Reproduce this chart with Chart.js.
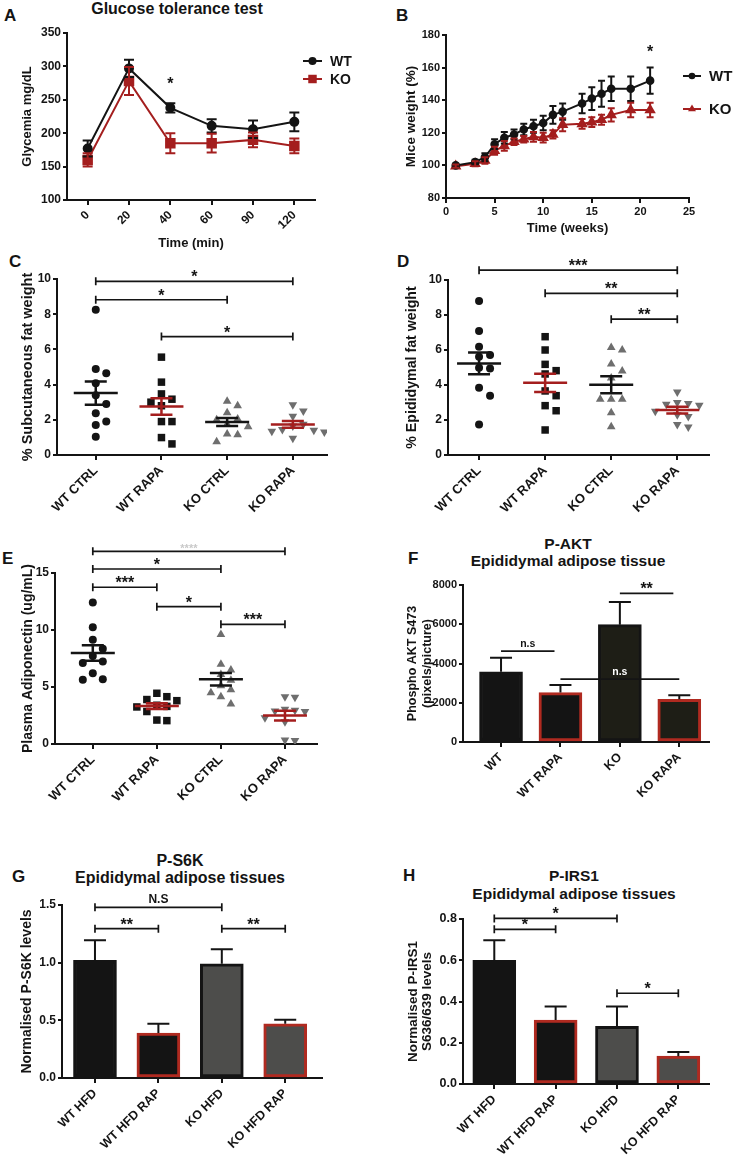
<!DOCTYPE html>
<html>
<head>
<meta charset="utf-8">
<title>Figure</title>
<script src="https://cdn.jsdelivr.net/npm/chart.js@4.4.1/dist/chart.umd.min.js"></script>
<style>
  html, body { margin: 0; padding: 0; background: #fff; }
  body { position: relative; width: 733px; height: 1157px; overflow: hidden;
         font-family: "Liberation Sans", Arial, sans-serif; font-weight: bold; color: #141414; }
  canvas { position: absolute; }
  .letter { position: absolute; font-size: 17px; line-height: 17px; }
  .title { position: absolute; width: 220px; text-align: center; }
</style>
</head>
<body>
<div class="letter" style="left:4px;top:7px">A</div>
<div class="letter" style="left:396px;top:7px">B</div>
<div class="letter" style="left:9px;top:253px">C</div>
<div class="letter" style="left:397px;top:253px">D</div>
<div class="letter" style="left:2px;top:550px">E</div>
<div class="letter" style="left:408px;top:550px">F</div>
<div class="letter" style="left:12px;top:868px">G</div>
<div class="letter" style="left:403px;top:867px">H</div>

<div class="title" style="left:67px;top:1px;font-size:16px;line-height:16px">Glucose tolerance test</div>
<div class="title" style="left:458px;top:535px;font-size:15.5px;line-height:17px">P-AKT<br>Epididymal adipose tissue</div>
<div class="title" style="left:70px;top:852px;font-size:16px;line-height:17px">P-S6K<br>Epididymal adipose tissues</div>
<div class="title" style="left:464px;top:867px;font-size:15.5px;line-height:18px">P-IRS1<br>Epididymal adipose tissues</div>

<canvas id="gtt" width="366" height="251" style="left:0;top:0"></canvas>
<canvas id="weight" width="367" height="236" style="left:366px;top:0"></canvas>
<canvas id="subcut" width="366" height="270" style="left:0;top:250px"></canvas>
<canvas id="epididymal" width="367" height="270" style="left:366px;top:250px"></canvas>
<canvas id="adiponectin" width="366" height="300" style="left:0;top:530px"></canvas>
<canvas id="akt" width="367" height="300" style="left:366px;top:530px"></canvas>
<canvas id="s6k" width="366" height="307" style="left:0;top:850px"></canvas>
<canvas id="irs1" width="367" height="307" style="left:366px;top:850px"></canvas>

<script>
// A - glucose tolerance test
const gttTimes = ['0', '20', '40', '60', '90', '120'];
const gttWT = [177, 297, 238, 211, 206, 217];
const gttWTErr = [12, 13, 7, 10, 13, 14];
const gttKO = [160, 278, 185, 185, 190, 181];
const gttKOErr = [10, 21, 15, 14, 11, 11];
const gttStars = [[2, 268, '*']];

// B - body weight
const weeks = [1, 3, 4, 5, 6, 7, 8, 9, 10, 11, 12, 14, 15, 16, 17, 19, 21];
const weightWT = [100, 102, 105, 113, 117, 119, 122, 124, 126, 131, 133, 138, 141, 144, 147, 147, 152];
const weightWTErr = [1, 1.5, 2.5, 3, 3.5, 3, 3.5, 4, 4.5, 5.5, 5, 6, 7, 8, 7.5, 7.5, 8];
const weightKO = [99.5, 101, 103, 109, 112, 114.5, 116, 117.5, 117, 119, 125, 125.5, 126.5, 128, 131, 134, 134];
const weightKOErr = [1, 1.5, 2, 2.5, 3, 2, 2, 3, 3, 2.5, 4, 3, 3, 3, 4, 4.5, 4.5];
const weightStars = [[21, 167, '*']];

// C, D, E - individual mice
const fatGroups = ['WT CTRL', 'WT RAPA', 'KO CTRL', 'KO RAPA'];
const subcutWtCtrl = [8.25, 4.88, 4.65, 4.08, 3.4, 2.9, 2.37, 1.9, 1.7, 1.04];
const subcutWtRapa = [5.56, 4.14, 3.47, 3.17, 3.0, 2.8, 1.9, 1.9, 0.99, 0.63];
const subcutKoCtrl = [3.05, 2.8, 2.4, 2.05, 2.0, 1.75, 1.6, 1.2, 1.15, 0.75];
const subcutKoRapa = [2.85, 2.5, 2.2, 1.75, 1.65, 1.45, 1.4, 1.35, 1.3, 0.95];
const subcutSig = [[1, 4, 9.87, '*'], [1, 3, 8.82, '*'], [2, 4, 6.73, '*']];

const epiWtCtrl = [8.8, 7.09, 6.19, 5.71, 5.62, 4.99, 4.95, 3.85, 3.39, 1.75];
const epiWtRapa = [6.76, 6.0, 5.18, 4.82, 4.63, 3.66, 3.39, 2.82, 2.53, 1.43];
const epiKoCtrl = [6.15, 6.0, 5.2, 4.8, 4.4, 3.18, 3.18, 3.18, 2.42, 1.62];
const epiKoRapa = [3.6, 3.0, 2.95, 2.9, 2.85, 2.5, 2.3, 2.2, 1.75, 1.6];
const epiSig = [[1, 4, 10.56, '***'], [2, 4, 9.24, '**'], [3, 4, 7.76, '**']];

const adipoWtCtrl = [12.42, 10.25, 9.14, 8.35, 7.73, 7.24, 7.1, 6.21, 5.68, 5.63];
const adipoWtRapa = [4.45, 4.15, 3.9, 3.8, 3.4, 3.3, 3.25, 2.85, 2.1, 2.05];
const adipoKoCtrl = [9.6, 7.0, 6.5, 6.1, 5.6, 5.1, 4.75, 4.5, 4.15, 3.5];
const adipoKoRapa = [4.15, 4.1, 3.05, 2.95, 2.9, 2.85, 2.3, 1.95, 0.35, 0.3];
const adipoSig = [[1, 4, 16.9, '****'], [1, 3, 15.35, '*'], [1, 2, 13.75, '***'], [2, 3, 12.05, '*'], [3, 4, 10.5, '***']];

// F - P-AKT
const aktGroups = ['WT', 'WT RAPA', 'KO', 'KO RAPA'];
const aktMean = [3580, 2520, 5980, 2180];
const aktSem = [715, 390, 1160, 200];
const aktSig = [[1, 1.9, 4630, 'n.s'], [2, 4, 3200, 'n.s'], [3, 3.9, 7574, '**']];

// G, H - P-S6K and P-IRS1
const hfdGroups = ['WT HFD', 'WT HFD RAP', 'KO HFD', 'KO HFD RAP'];
const s6kMean = [1.02, 0.39, 0.99, 0.47];
const s6kSem = [0.175, 0.08, 0.126, 0.035];
const s6kSig = [[1, 3, 1.48, 'N.S'], [1, 2, 1.295, '**'], [3, 4, 1.295, '**']];
const irs1Mean = [0.60, 0.31, 0.28, 0.135];
const irs1Sem = [0.097, 0.066, 0.096, 0.02];
const irs1Sig = [[1, 3, 0.803, '*'], [1, 2, 0.75, '*'], [3, 4, 0.44, '*']];

const INK = '#141414', RED = '#a41e1e', EDGE = '#b02a20', GREY = '#6e6e6e';
const FONT = "'Liberation Sans', Arial, sans-serif";

Chart.defaults.font.family = FONT;
Chart.defaults.font.weight = 'bold';
Chart.defaults.color = INK;
Chart.defaults.animation = false;
Chart.defaults.responsive = false;
Chart.defaults.plugins.legend.display = false;
Chart.defaults.plugins.tooltip.enabled = false;

function drawMarker(ctx, style, x, y, r) {
  ctx.beginPath();
  if (style === 'rect') {
    const s = r * Math.SQRT1_2;
    ctx.rect(x - s, y - s, 2 * s, 2 * s);
  } else if (style === 'triangle') {
    for (let k = 0; k < 3; k++) {
      const a = k * 2 * Math.PI / 3;
      ctx[k ? 'lineTo' : 'moveTo'](x + Math.sin(a) * r, y - Math.cos(a) * r);
    }
    ctx.closePath();
  } else {
    ctx.arc(x, y, r, 0, 2 * Math.PI);
  }
  ctx.fill();
}

function sigText(ctx, text, x, y, color, size) {
  const stars = /^\*+$/.test(text);
  ctx.fillStyle = color || INK;
  ctx.font = 'bold ' + (size || (stars ? 16 : 11)) + 'px ' + FONT;
  ctx.textAlign = 'center';
  ctx.textBaseline = 'alphabetic';
  ctx.fillText(text, x, stars ? y + 1 : y - 4.5);
}

// spreads the points of one column sideways so they do not overlap
const swarm = {
  id: 'swarm',
  afterDatasetUpdate(chart, args, o) {
    if (!o || !o.step) return;
    const placed = [];
    args.meta.data.forEach(el => {
      for (let k = 0; k < 20; k++) {
        const slot = k === 0 ? 0 : (k % 2 ? (k + 1) / 2 : -k / 2);
        if (!placed.some(p => p.slot === slot && Math.abs(p.y - el.y) < o.size)) {
          placed.push({ slot: slot, y: el.y });
          el.x += slot * o.step;
          break;
        }
      }
    });
  }
};

// error bars, mean/SEM lines, significance brackets, legend
const decorations = {
  id: 'decorations',
  afterDatasetsDraw(chart, args, o) {
    const ctx = chart.ctx, xs = chart.scales.x, ys = chart.scales.y;
    ctx.save();
    chart.data.datasets.forEach((ds, i) => {
      if (!ds.errorBars) return;
      const meta = chart.getDatasetMeta(i);
      ctx.strokeStyle = ds.errorColor || ds.borderColor;
      ctx.lineWidth = 2;
      meta.data.forEach((el, k) => {
        const d = ds.data[k];
        const v = typeof d === 'object' ? d.y : d;
        const top = ys.getPixelForValue(v + ds.errorBars[k]);
        const bot = ds.errorUpOnly ? el.y : ys.getPixelForValue(v - ds.errorBars[k]);
        const h = ds.errorCap;
        ctx.beginPath();
        ctx.moveTo(el.x, top); ctx.lineTo(el.x, bot);
        ctx.moveTo(el.x - h, top); ctx.lineTo(el.x + h, top);
        if (!ds.errorUpOnly) { ctx.moveTo(el.x - h, bot); ctx.lineTo(el.x + h, bot); }
        ctx.stroke();
      });
    });

    if (o.stats) {
      chart.data.datasets.forEach((ds, g) => {
        const vals = ds.data.map(d => d.y);
        const n = vals.length;
        const mean = vals.reduce((a, b) => a + b, 0) / n;
        const sd = Math.sqrt(vals.reduce((a, b) => a + (b - mean) * (b - mean), 0) / (n - 1));
        const sem = sd / Math.sqrt(n);
        const cx = xs.getPixelForValue(g + 1);
        const ym = ys.getPixelForValue(mean);
        const yt = ys.getPixelForValue(mean + sem), yb = ys.getPixelForValue(mean - sem);
        ctx.strokeStyle = o.stats.colors[g];
        ctx.lineWidth = 2.5;
        ctx.beginPath();
        ctx.moveTo(cx - 22, ym); ctx.lineTo(cx + 22, ym);
        ctx.moveTo(cx, yt); ctx.lineTo(cx, yb);
        ctx.moveTo(cx - 11, yt); ctx.lineTo(cx + 11, yt);
        ctx.moveTo(cx - 11, yb); ctx.lineTo(cx + 11, yb);
        ctx.stroke();
      });
    }

    (o.brackets || []).forEach((b, k) => {
      const x1 = xs.getPixelForValue(b[0]), x2 = xs.getPixelForValue(b[1]);
      const yy = ys.getPixelForValue(b[2]);
      ctx.strokeStyle = INK;
      ctx.lineWidth = 1.7;
      ctx.beginPath();
      ctx.moveTo(x1, yy); ctx.lineTo(x2, yy);
      if (o.caps) {
        ctx.moveTo(x1, yy - 4); ctx.lineTo(x1, yy + 4);
        ctx.moveTo(x2, yy - 4); ctx.lineTo(x2, yy + 4);
      }
      ctx.stroke();
      sigText(ctx, b[3], (x1 + x2) / 2, yy,
        o.labelColors && o.labelColors[k], (o.labelSizes && o.labelSizes[k]) || (/^\*+$/.test(b[3]) ? 16 : o.labelSize));
    });

    (o.stars || []).forEach(s => {
      sigText(ctx, s[2], xs.getPixelForValue(s[0]), ys.getPixelForValue(s[1]));
    });

    if (o.legend) {
      const L = o.legend;
      chart.data.datasets.forEach((ds, i) => {
        const yy = L.y + i * L.dy;
        ctx.strokeStyle = ds.borderColor;
        ctx.lineWidth = 2;
        ctx.beginPath(); ctx.moveTo(L.x, yy); ctx.lineTo(L.x + L.len, yy); ctx.stroke();
        ctx.fillStyle = ds.borderColor;
        drawMarker(ctx, ds.pointStyle, L.x + L.len / 2, yy, ds.pointRadius);
        ctx.fillStyle = INK;
        ctx.font = 'bold ' + L.size + 'px ' + FONT;
        ctx.textAlign = 'left';
        ctx.textBaseline = 'middle';
        ctx.fillText(ds.label, L.x + L.len + L.gap, yy + 1);
      });
    }
    ctx.restore();
  }
};

Chart.register(swarm, decorations);

const axisLine = { color: INK, width: 2 };
const tickMarks = { drawOnChartArea: false, color: INK, tickColor: INK, lineWidth: 2, tickLength: 4, offset: false };

function valueAxis(min, max, step, title, titleFont, width, tickSize, fmt) {
  return {
    min: min, max: max,
    ticks: { stepSize: step, padding: 2, font: { size: tickSize }, callback: fmt || (v => String(v)) },
    border: axisLine,
    grid: tickMarks,
    title: { display: true, text: title, padding: 0, font: titleFont },
    afterFit: s => { s.width = width; }
  };
}

function groupAxis(groups, min, max, height, tickSize) {
  return {
    type: 'linear', min: min, max: max, offset: false,
    afterBuildTicks: s => { s.ticks = groups.map((g, i) => ({ value: i + 1 })); },
    ticks: { autoSkip: false, minRotation: 45, maxRotation: 45, padding: 3, font: { size: tickSize },
             callback: v => groups[v - 1] },
    border: axisLine,
    grid: Object.assign({}, tickMarks, { tickLength: 5 }),
    afterFit: s => { s.height = height; }
  };
}

const looks = [
  { color: INK, style: 'circle', radius: 4, rotation: 0 },
  { color: INK, style: 'rect', radius: 5.3, rotation: 0 },
  { color: GREY, style: 'triangle', radius: 5, rotation: 0 },
  { color: GREY, style: 'triangle', radius: 5, rotation: 180 }
];
const statColors = [INK, RED, INK, RED];

function strip(cols) {
  return cols.map((vals, g) => ({
    data: vals.map(v => ({ x: g + 1, y: v })),
    pointStyle: looks[g].style,
    pointRadius: looks[g].radius,
    pointRotation: looks[g].rotation,
    pointBackgroundColor: looks[g].color,
    pointBorderWidth: 0
  }));
}

function bars(groups, means, sems, fills, edges) {
  return [{
    data: groups.map((g, i) => ({ x: i + 1, y: means[i] })),
    errorBars: sems, errorUpOnly: true, errorCap: 11, errorColor: INK,
    backgroundColor: fills, borderColor: edges,
    borderWidth: 3, borderSkipped: false, barThickness: 43
  }];
}

// A
new Chart(document.getElementById('gtt'), {
  type: 'line',
  data: {
    labels: gttTimes,
    datasets: [
      { label: 'WT', data: gttWT, errorBars: gttWTErr, errorCap: 5, borderColor: INK, backgroundColor: INK,
        borderWidth: 2, pointStyle: 'circle', pointRadius: 4 },
      { label: 'KO', data: gttKO, errorBars: gttKOErr, errorCap: 5, borderColor: RED, backgroundColor: RED,
        borderWidth: 2, pointStyle: 'rect', pointRadius: 6 }
    ]
  },
  options: {
    layout: { padding: { left: 20, top: 33, right: 51, bottom: 0 } },
    scales: {
      x: {
        offset: true,
        ticks: { autoSkip: false, minRotation: 45, maxRotation: 45, padding: 3, font: { size: 12 } },
        border: axisLine,
        grid: Object.assign({}, tickMarks, { tickLength: 5 }),
        title: { display: true, text: 'Time (min)', padding: 0, font: { size: 13 } },
        afterFit: s => { s.height = 51; }
      },
      y: valueAxis(100, 350, 50, 'Glycemia mg/dL', { size: 13 }, 47, 12)
    },
    plugins: { decorations: { stars: gttStars, legend: { x: 303, y: 61, dy: 18, len: 19, gap: 8, size: 14 } } }
  }
});

// B
new Chart(document.getElementById('weight'), {
  type: 'line',
  data: {
    datasets: [
      { label: 'WT', data: weeks.map((w, i) => ({ x: w, y: weightWT[i] })), errorBars: weightWTErr, errorCap: 3.5,
        borderColor: INK, backgroundColor: INK, borderWidth: 2, pointStyle: 'circle', pointRadius: 3.3 },
      { label: 'KO', data: weeks.map((w, i) => ({ x: w, y: weightKO[i] })), errorBars: weightKOErr, errorCap: 3.5,
        borderColor: RED, backgroundColor: RED, borderWidth: 2, pointStyle: 'triangle', pointRadius: 4.6 }
    ]
  },
  options: {
    layout: { padding: { left: 37, top: 35, right: 44, bottom: 0 } },
    scales: {
      x: {
        type: 'linear', min: 0, max: 25,
        ticks: { stepSize: 5, maxRotation: 0, padding: 2, font: { size: 11 } },
        border: axisLine,
        grid: Object.assign({}, tickMarks, { tickLength: 5 }),
        title: { display: true, text: 'Time (weeks)', padding: 0, font: { size: 13 } },
        afterFit: s => { s.height = 38; }
      },
      y: valueAxis(80, 180, 20, 'Mice weight (%)', { size: 13.5 }, 43, 11)
    },
    plugins: { decorations: { stars: weightStars, legend: { x: 317, y: 76, dy: 33, len: 18, gap: 8, size: 15 } } }
  }
});

// C
new Chart(document.getElementById('subcut'), {
  type: 'scatter',
  data: { datasets: strip([subcutWtCtrl, subcutWtRapa, subcutKoCtrl, subcutKoRapa]) },
  options: {
    layout: { padding: { left: 19, top: 29, right: 39, bottom: 0 } },
    scales: {
      x: groupAxis(fatGroups, 0.41, 4.52, 65, 13),
      y: valueAxis(0, 10, 2, '% Subcutaneous fat weight', { size: 14.5 }, 38, 12)
    },
    plugins: {
      swarm: { step: 10.5, size: 9.5 },
      decorations: { stats: { colors: statColors }, brackets: subcutSig, caps: true }
    }
  }
});

// D
new Chart(document.getElementById('epididymal'), {
  type: 'scatter',
  data: { datasets: strip([epiWtCtrl, epiWtRapa, epiKoCtrl, epiKoRapa]) },
  options: {
    layout: { padding: { left: 38, top: 30, right: 24, bottom: 0 } },
    scales: {
      x: groupAxis(fatGroups, 0.53, 4.48, 65, 13),
      y: valueAxis(0, 10, 2, '% Epididymal fat weight', { size: 14.2 }, 44, 12)
    },
    plugins: {
      swarm: { step: 11, size: 9.5 },
      decorations: { stats: { colors: statColors }, brackets: epiSig, caps: true }
    }
  }
});

// E
new Chart(document.getElementById('adiponectin'), {
  type: 'scatter',
  data: { datasets: strip([adipoWtCtrl, adipoWtRapa, adipoKoCtrl, adipoKoRapa]) },
  options: {
    layout: { padding: { left: 20, top: 43, right: 49, bottom: 0 } },
    scales: {
      x: groupAxis(fatGroups, 0.41, 4.5, 86, 13),
      y: valueAxis(0, 15, 5, 'Plasma Adiponectin (ug/mL)', { size: 14 }, 35, 12)
    },
    plugins: {
      swarm: { step: 10, size: 9.5 },
      decorations: { stats: { colors: statColors }, brackets: adipoSig, caps: true,
                     labelColors: ['#c9c9c9'], labelSizes: [11] }
    }
  }
});

// F
new Chart(document.getElementById('akt'), {
  type: 'bar',
  data: { datasets: bars(aktGroups, aktMean, aktSem, [INK, INK, '#1e1e16', '#1e1e16'], [INK, EDGE, INK, EDGE]) },
  options: {
    layout: { padding: { left: 39.5, top: 55, right: 24, bottom: 0 } },
    scales: {
      x: groupAxis(aktGroups, 0.36, 4.5, 88, 12.5),
      y: valueAxis(0, 8000, 2000, ['Phospho AKT S473', '(pixels/picture)'], { size: 12.5 }, 57.5, 11)
    },
    plugins: {
      decorations: { brackets: aktSig, caps: false, labelSize: 10.5, labelColors: [INK, '#ffffff', INK] }
    }
  }
});

// G
new Chart(document.getElementById('s6k'), {
  type: 'bar',
  data: { datasets: bars(hfdGroups, s6kMean, s6kSem, [INK, INK, '#4d4d4b', '#4d4d4b'], [INK, EDGE, INK, EDGE]) },
  options: {
    layout: { padding: { left: 18.6, top: 55, right: 44, bottom: 0 } },
    scales: {
      x: groupAxis(hfdGroups, 0.48, 4.58, 79, 12.5),
      y: valueAxis(0, 1.5, 0.5, 'Normalised P-S6K levels', { size: 14 }, 43.4, 12, v => v.toFixed(1))
    },
    plugins: { decorations: { brackets: s6kSig, caps: true, labelSize: 12 } }
  }
});

// H
new Chart(document.getElementById('irs1'), {
  type: 'bar',
  data: { datasets: bars(hfdGroups, irs1Mean, irs1Sem, [INK, INK, '#4d4d4b', '#4d4d4b'], [INK, EDGE, INK, EDGE]) },
  options: {
    layout: { padding: { left: 41, top: 69, right: 24, bottom: 0 } },
    scales: {
      x: groupAxis(hfdGroups, 0.49, 4.5, 73, 12.5),
      y: valueAxis(0, 0.8, 0.2, ['Normalised P-IRS1', 'S636/639 levels'], { size: 13.5, lineHeight: 1 }, 56, 12.5,
                   v => v.toFixed(1))
    },
    plugins: { decorations: { brackets: irs1Sig, caps: true } }
  }
});
</script>
</body>
</html>
